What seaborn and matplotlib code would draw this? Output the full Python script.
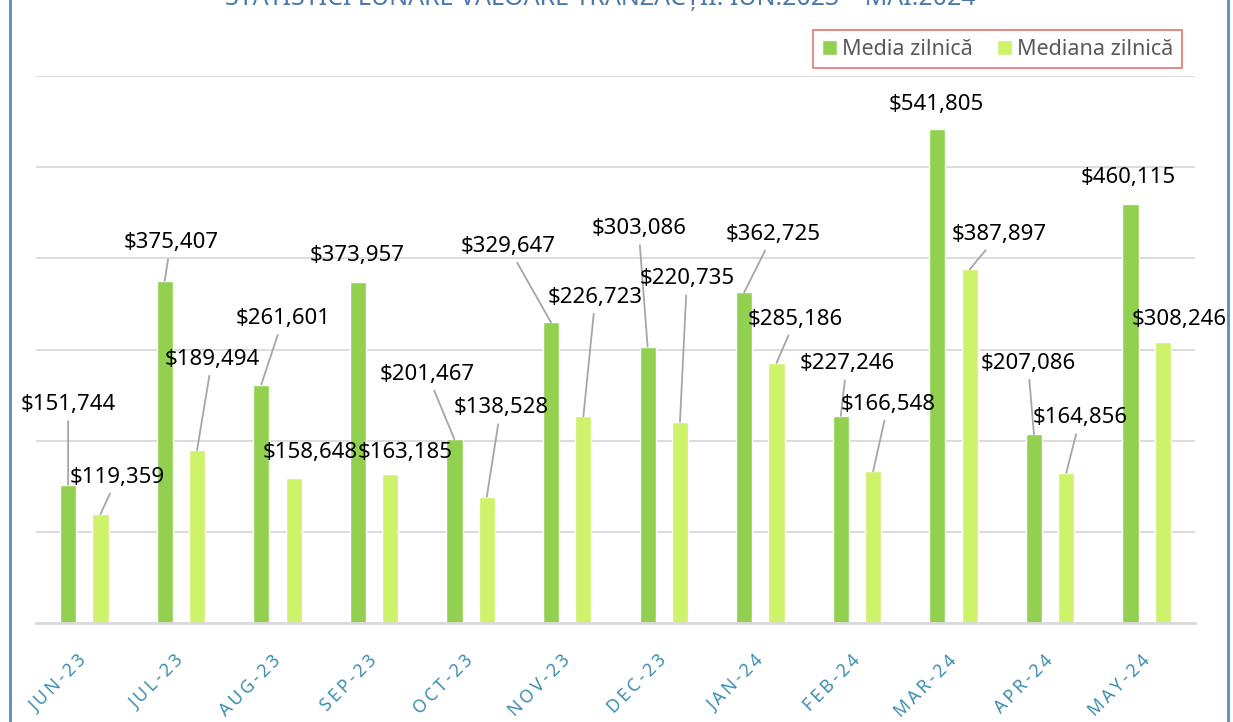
import pandas as pd
import numpy as np
import seaborn as sns
import matplotlib.pyplot as plt
from matplotlib.patches import Rectangle

## data
months = ["JUN-23", "JUL-23", "AUG-23", "SEP-23", "OCT-23", "NOV-23",
          "DEC-23", "JAN-24", "FEB-24", "MAR-24", "APR-24", "MAY-24"]
media = [151744, 375407, 261601, 373957, 201467, 329647,
         303086, 362725, 227246, 541805, 207086, 460115]
mediana = [119359, 189494, 158648, 163185, 138528, 226723,
           220735, 285186, 166548, 387897, 164856, 308246]
series_names = ["Media zilnică", "Mediana zilnică"]
title = "STATISTICI LUNARE VALOARE TRANZACȚII: IUN.2023 – MAI.2024"

## label offsets (pixels from top of bar), as placed in the original
media_off = [(0, 80), (6, 38), (22, 66), (-1, 27), (-27, 65), (-43, 76),
             (-9, 118), (29, 58), (6, 52), (-1, 25), (-6, 71), (-2, 26)]
mediana_off = [(17, 37), (15, 91), (17, 26), (15, 22), (14, 89), (12, 119),
               (7, 143), (19, 44), (15, 67), (29, 35), (14, 55), (16, 22)]

colors = {"Media zilnică": "#92D050", "Mediana zilnică": "#CEF26A"}

df = pd.DataFrame({
    "Luna": months * 2,
    "Serie": [series_names[0]] * len(months) + [series_names[1]] * len(months),
    "Valoare": media + mediana,
})

sns.set_style("white")
plt.rcParams["font.family"] = ["Noto Sans", "DejaVu Sans"]

W, H = 1233, 722
fig = plt.figure(figsize=(W / 100, H / 100), dpi=100)
ax = fig.add_axes([36 / W, (H - 623) / H, (1195 - 36) / W, (623 - 76) / H])

sns.barplot(data=df, x="Luna", y="Valoare", hue="Serie", palette=colors,
            width=0.67, gap=0.5, legend=False, ax=ax, saturation=1)

ax.set_ylim(0, 600000)
ax.set_xlim(-0.5, len(months) - 0.5)
ax.set_yticks(np.arange(0, 600001, 100000))
ax.set_yticklabels([])
ax.grid(axis="y", color="#D9D9D9", lw=1.3)
ax.set_axisbelow(True)
ax.set_xlabel("")
ax.set_ylabel("")
for s in ["top", "right", "left"]:
    ax.spines[s].set_visible(False)
ax.spines["bottom"].set_color("#D9D9D9")
ax.spines["bottom"].set_linewidth(2)
ax.tick_params(axis="y", length=0)

# month labels at centres (letter-spaced), tick marks on the category borders
ax.set_xticks(range(len(months)))
ax.set_xticklabels(["\u2009".join(m) for m in months], rotation=45, ha="right",
                   va="center", rotation_mode="anchor", fontsize=12.8,
                   color="#3D8EB0", fontweight="light")
ax.tick_params(axis="x", which="major", length=0, pad=25)
ax.set_xticks(np.arange(-0.5, len(months), 1), minor=True)
ax.tick_params(axis="x", which="minor", length=9, width=1.5, color="#D9D9D9")

# value labels with leader lines
for cont, offs in zip(ax.containers, [media_off, mediana_off]):
    for bar, (dx, dy) in zip(cont, offs):
        x = bar.get_x() + bar.get_width() / 2
        h = bar.get_height()
        arrow = None
        if dy > 30:
            arrow = dict(arrowstyle="-", color="#A6A6A6", lw=1.3,
                         shrinkA=2, shrinkB=0)
        ax.annotate(f"${h:,.0f}", xy=(x, h), xytext=(dx, dy),
                    textcoords="offset pixels", ha="center", va="center",
                    fontsize=16, color="black", arrowprops=arrow,
                    annotation_clip=False)

leg = fig.legend(handles=list(ax.containers), labels=series_names,
                 loc="upper right", bbox_to_anchor=(1182 / W, 1 - 30 / H),
                 bbox_transform=fig.transFigure, ncol=2, fontsize=15.5,
                 frameon=True, fancybox=False, borderaxespad=0,
                 handlelength=0.7, handleheight=0.7, handletextpad=0.25,
                 columnspacing=1.1, borderpad=0.4)
leg.get_frame().set_edgecolor("#D9534F")
leg.get_frame().set_linewidth(1.2)
for t in leg.get_texts():
    t.set_color("#595959")

# title sits mostly above the visible area, as in the original
fig.text(600 / W, 1 - 5 / H, title, ha="center", va="baseline",
         fontsize=18, color="#4A78AC")

fig.patches.append(Rectangle((10 / W, -0.05), (1228 - 10) / W, 1.1,
                             transform=fig.transFigure, fill=False,
                             edgecolor="#5A8AC6", lw=2))

fig.savefig("out.png", dpi=100)
